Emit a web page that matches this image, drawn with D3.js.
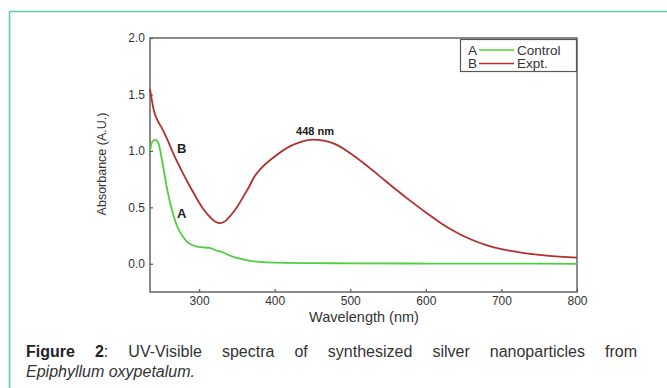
<!DOCTYPE html>
<head>
  <meta charset="utf-8">
  <script src="https://d3js.org/d3.v7.min.js"></script>
  <style>
    body { margin:0; background:#fff; }
    svg { display:block; font-family: Arial, "Liberation Sans", sans-serif; }
  </style>
</head>
<body>
  <svg width="667" height="388"></svg>
  <script>
    // spectra: wavelength (nm) / absorbance (A.U.)
    var ctrlWl  = [235, 238, 242, 246, 250, 254, 258, 262, 266, 271, 278, 284, 290, 297, 305, 314, 322, 332, 342, 354, 366, 380, 400, 450, 500, 600, 700, 800];
    var ctrlAbs = [1.00, 1.08, 1.10, 1.07, 0.95, 0.80, 0.65, 0.53, 0.43, 0.33, 0.245, 0.195, 0.168, 0.152, 0.146, 0.14, 0.12, 0.10, 0.07, 0.045, 0.028, 0.016, 0.01, 0.006, 0.004, 0.002, 0.001, 0.0];
    var exptWl  = [235, 240, 245, 250, 258, 265, 275, 285, 295, 305, 315, 322, 328, 335, 342, 350, 358, 366, 372, 380, 400, 420, 435, 450, 465, 480, 500, 520, 540, 560, 580, 600, 620, 640, 660, 680, 700, 730, 760, 800];
    var exptAbs = [1.55, 1.36, 1.27, 1.21, 1.10, 0.99, 0.85, 0.72, 0.60, 0.49, 0.41, 0.37, 0.36, 0.38, 0.43, 0.50, 0.59, 0.68, 0.76, 0.83, 0.95, 1.04, 1.08, 1.10, 1.09, 1.06, 0.98, 0.88, 0.77, 0.66, 0.555, 0.455, 0.36, 0.28, 0.215, 0.165, 0.13, 0.095, 0.072, 0.055];
    var xTicks = [300, 400, 500, 600, 700, 800];
    var yTicks = [0.0, 0.5, 1.0, 1.5, 2.0];
    var legendKeys = ['A', 'B'];
    var legendNames = ['Control', 'Expt.'];
    var seriesColors = ['#4fcf3f', '#b3302f'];

    var svg = d3.select('svg');
    var plot = {left: 150, right: 577, top: 38, bottom: 292};

    // frame around the whole figure (top + left only)
    svg.append('path')
      .attr('d', 'M9.5,388 V11.5 H667')
      .attr('fill', 'none')
      .attr('stroke', '#62c9b6')
      .attr('stroke-width', 1.6);

    var x = d3.scaleLinear().domain([235, 800]).range([plot.left, plot.right]);
    var y = d3.scaleLinear().domain([-0.25, 2.0]).range([plot.bottom, plot.top]);

    // box
    svg.append('rect')
      .attr('x', plot.left).attr('y', plot.top)
      .attr('width', plot.right - plot.left).attr('height', plot.bottom - plot.top)
      .attr('fill', 'none').attr('stroke', '#5a5a5a').attr('stroke-width', 1.4);

    var xAxis = svg.append('g')
      .attr('transform', 'translate(0,' + plot.bottom + ')')
      .call(d3.axisBottom(x).tickValues(xTicks).tickSizeInner(-3).tickSizeOuter(0).tickPadding(4));
    var yAxis = svg.append('g')
      .attr('transform', 'translate(' + plot.left + ',0)')
      .call(d3.axisLeft(y).tickValues(yTicks).tickFormat(d3.format('.1f')).tickSizeInner(-3).tickSizeOuter(0).tickPadding(5));
    [xAxis, yAxis].forEach(function(g) {
      g.select('.domain').remove();
      g.selectAll('line').attr('stroke', '#5a5a5a').attr('stroke-width', 1.2);
      g.selectAll('text').attr('fill', '#333').style('font-size', '12px').style('font-family', 'Arial, "Liberation Sans", sans-serif');
    });

    svg.append('text')
      .attr('x', 364).attr('y', 322)
      .attr('text-anchor', 'middle')
      .attr('fill', '#333').style('font-size', '14.5px')
      .text('Wavelength (nm)');
    svg.append('text')
      .attr('transform', 'translate(106,164) rotate(-90)')
      .attr('text-anchor', 'middle')
      .attr('fill', '#333').style('font-size', '12.5px')
      .text('Absorbance (A.U.)');

    var line = d3.line()
      .x(d => x(d[0]))
      .y(d => y(d[1]))
      .curve(d3.curveMonotoneX);

    var series = [
      d3.zip(ctrlWl, ctrlAbs),
      d3.zip(exptWl, exptAbs)
    ];
    svg.selectAll('.spec')
      .data(series)
      .enter().append('path')
      .attr('class', 'spec')
      .attr('d', line)
      .attr('fill', 'none')
      .attr('stroke', (d, i) => seriesColors[i])
      .attr('stroke-width', 1.8);

    // annotations
    svg.append('text').attr('x', 315).attr('y', 135).attr('text-anchor', 'middle')
      .attr('font-weight', 'bold').style('font-size', '11px').attr('fill', '#222').text('448 nm');
    svg.append('text').attr('x', 177).attr('y', 153)
      .attr('font-weight', 'bold').style('font-size', '13px').attr('fill', '#222').text('B');
    svg.append('text').attr('x', 177).attr('y', 218)
      .attr('font-weight', 'bold').style('font-size', '13px').attr('fill', '#222').text('A');

    // legend
    var lg = svg.append('g');
    lg.append('rect')
      .attr('x', 460.5).attr('y', 39.5).attr('width', 116).attr('height', 32)
      .attr('fill', '#fff').attr('stroke', '#5a5a5a').attr('stroke-width', 1.2);
    legendKeys.forEach(function(k, i) {
      var yy = 50 + i * 13.5;
      lg.append('text').attr('x', 468).attr('y', yy + 4.5).style('font-size', '13.5px').attr('fill', '#333').text(k);
      lg.append('line').attr('x1', 479).attr('x2', 514).attr('y1', yy).attr('y2', yy)
        .attr('stroke', seriesColors[i]).attr('stroke-width', 1.6);
      lg.append('text').attr('x', 517).attr('y', yy + 4.5).style('font-size', '13.5px').attr('fill', '#333').text(legendNames[i]);
    });

    // caption, first line justified between the margins
    var capLeft = 26, capRight = 637;
    var line1 = [['Figure', true], ['2', true, ':'], ['UV-Visible'], ['spectra'], ['of'], ['synthesized'], ['silver'], ['nanoparticles'], ['from']];
    var cap = svg.append('g').style('font-size', '16px').attr('fill', '#333');
    var words = line1.map(function(w) {
      var t = cap.append('text').attr('y', 357);
      t.append('tspan').attr('font-weight', w[1] ? 'bold' : 'normal').attr('fill', w[1] ? '#222' : '#333').text(w[0]);
      if (w[2]) t.append('tspan').text(w[2]);
      return t;
    });
    var widths = words.map(t => t.node().getComputedTextLength());
    var gap = (capRight - capLeft - d3.sum(widths)) / (words.length - 1);
    var cx = capLeft;
    words.forEach(function(t, i) { t.attr('x', cx); cx += widths[i] + gap; });
    cap.append('text').attr('x', capLeft).attr('y', 377)
      .attr('font-style', 'italic').text('Epiphyllum oxypetalum.');
  </script>
</body>
